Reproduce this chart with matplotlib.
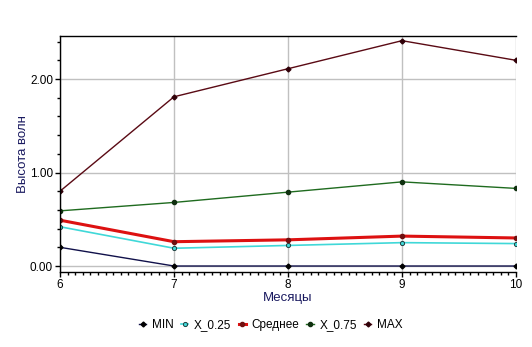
import matplotlib.pyplot as plt
import matplotlib as mpl
from matplotlib.ticker import MultipleLocator

mpl.rcParams['font.family'] = ['Liberation Sans', 'DejaVu Sans']
mpl.rcParams['font.size'] = 8

months = [6, 7, 8, 9, 10]
v_min = [0.20, 0.00, 0.00, 0.00, 0.00]
v_q25 = [0.42, 0.19, 0.22, 0.25, 0.24]
v_mean = [0.49, 0.26, 0.28, 0.32, 0.30]
v_q75 = [0.59, 0.68, 0.79, 0.90, 0.83]
v_max = [0.80, 1.81, 2.11, 2.41, 2.20]
labels = ["MIN", "X_0.25", "Среднее", "X_0.75", "MAX"]

navy = "#1a1a60"

fig = plt.figure(figsize=(5.32, 3.47), dpi=100)
ax = fig.add_axes([60/532, 1 - 272/347, 456/532, 236/347])

ax.plot(months, v_min, color="#10104a", linewidth=1, marker="D", markersize=2.5,
        markerfacecolor="black", markeredgecolor="black", label=labels[0])
ax.plot(months, v_q25, color="#40d8d8", linewidth=1.2, marker="o", markersize=3,
        markerfacecolor="#40d8d8", markeredgecolor="#204040", markeredgewidth=0.7,
        label=labels[1])
ax.plot(months, v_mean, color="#dd1111", linewidth=2.2, marker="o", markersize=3,
        markerfacecolor="#701010", markeredgecolor="#701010", label=labels[2])
ax.plot(months, v_q75, color="#1f6b1f", linewidth=1, marker="o", markersize=3,
        markerfacecolor="#103010", markeredgecolor="#103010", label=labels[3])
ax.plot(months, v_max, color="#5a0a14", linewidth=1, marker="D", markersize=2.5,
        markerfacecolor="#300008", markeredgecolor="#300008", label=labels[4])

ax.set_xlim(6, 10)
ax.set_ylim(-0.064, 2.46)
ax.xaxis.set_major_locator(MultipleLocator(1))
ax.xaxis.set_minor_locator(MultipleLocator(1/15))
ax.yaxis.set_major_locator(MultipleLocator(1))
ax.yaxis.set_minor_locator(MultipleLocator(0.2))
ax.yaxis.set_major_formatter(mpl.ticker.FormatStrFormatter('%.2f'))
ax.tick_params(which='major', direction='out', length=3.5, width=1, pad=1.5,
               labelsize=8.5)
ax.tick_params(which='minor', direction='out', length=2.5, width=1)
ax.grid(True, which='major', color='#c0c0c0', linewidth=1)
ax.set_axisbelow(True)
ax.spines['right'].set_visible(False)
for s in ['top', 'left', 'bottom']:
    ax.spines[s].set_linewidth(1)

ax.set_xlabel("Месяцы", color=navy, fontsize=9.5)
ax.set_ylabel("Высота волн", color=navy, fontsize=9.5)
ax.xaxis.set_label_coords(0.5, -0.085)
ax.yaxis.set_label_coords(-0.081, 0.5)
ax.yaxis.label.set_va('center')
ax.xaxis.label.set_va('top')

fig.legend(loc='center', bbox_to_anchor=(271/532, 1 - 325/347), ncol=5,
           frameon=False, handlelength=0.6, handletextpad=0.5, columnspacing=0.6,
           fontsize=8.5)

plt.savefig("out.png", dpi=100)
